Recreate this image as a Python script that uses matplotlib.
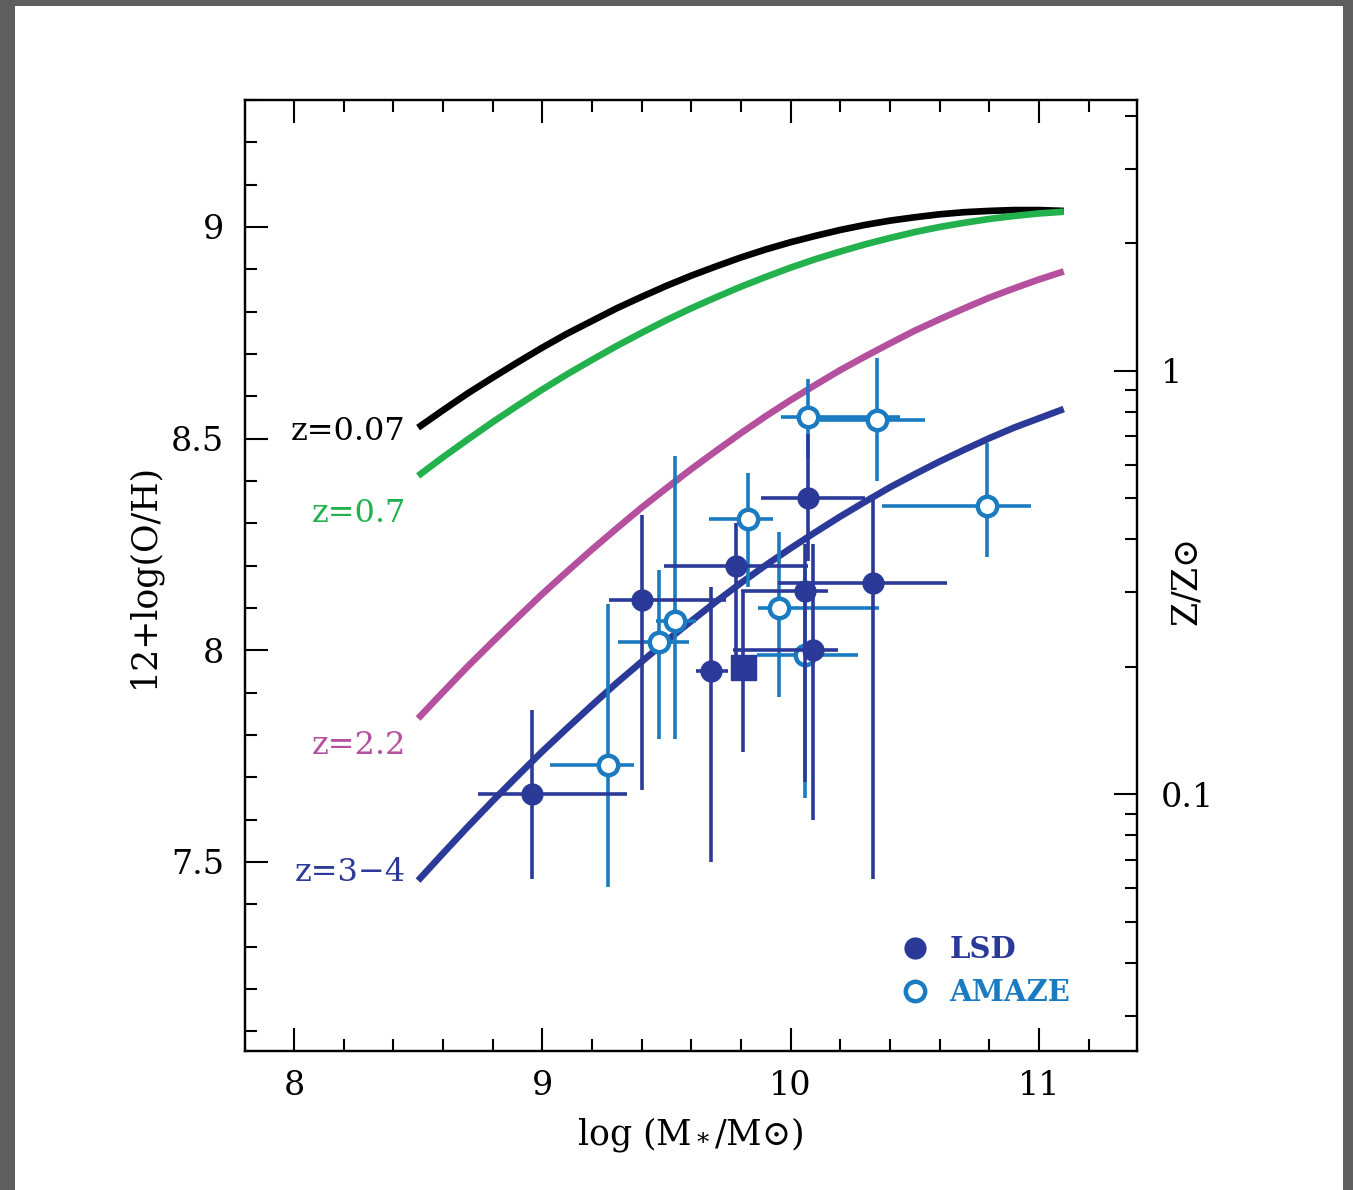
import matplotlib
matplotlib.use("Agg")
import matplotlib.pyplot as plt
import numpy as np
from matplotlib.lines import Line2D
from matplotlib.patches import Rectangle
from matplotlib.ticker import FixedLocator, MultipleLocator, FuncFormatter, LogLocator, NullFormatter

plt.rcParams['font.family'] = ['DejaVu Serif', 'DejaVu Sans']
plt.rcParams['mathtext.fontset'] = 'dejavuserif'

# ---- model curves (every 0.1 dex in mass) ----
curve_x = [8.5, 8.6, 8.7, 8.8, 8.9, 9.0, 9.1, 9.2, 9.3, 9.4, 9.5, 9.6, 9.7, 9.8,
           9.9, 10.0, 10.1, 10.2, 10.3, 10.4, 10.5, 10.6, 10.7, 10.8, 10.9, 11.0, 11.1]
curve_z007 = [8.526, 8.567, 8.607, 8.644, 8.680, 8.715, 8.748, 8.778, 8.808, 8.835,
              8.861, 8.885, 8.907, 8.928, 8.947, 8.964, 8.979, 8.993, 9.005, 9.015,
              9.023, 9.030, 9.035, 9.038, 9.040, 9.040, 9.038]
curve_z07 = [8.412, 8.456, 8.498, 8.539, 8.578, 8.616, 8.652, 8.686, 8.719, 8.750,
             8.780, 8.808, 8.834, 8.859, 8.882, 8.904, 8.924, 8.942, 8.959, 8.974,
             8.988, 9.000, 9.010, 9.019, 9.026, 9.032, 9.036]
curve_z22 = [7.839, 7.901, 7.962, 8.020, 8.077, 8.133, 8.186, 8.238, 8.288, 8.337,
             8.383, 8.428, 8.471, 8.513, 8.553, 8.591, 8.627, 8.662, 8.694, 8.725,
             8.755, 8.782, 8.808, 8.833, 8.855, 8.876, 8.895]
curve_z34 = [7.456, 7.520, 7.583, 7.644, 7.703, 7.761, 7.816, 7.870, 7.923, 7.973,
             8.022, 8.069, 8.115, 8.159, 8.201, 8.241, 8.279, 8.316, 8.351, 8.385,
             8.416, 8.446, 8.474, 8.501, 8.526, 8.548, 8.570]
curve_labels = ["z=0.07", "z=0.7", "z=2.2", "z=3\u22124"]

# ---- LSD (filled circles) ----
lsd_x = [8.96, 9.40, 9.68, 9.78, 10.07, 10.06, 10.09, 10.33]
lsd_y = [7.66, 8.12, 7.95, 8.20, 8.36, 8.14, 8.00, 8.16]
lsd_xlo = [0.22, 0.13, 0.06, 0.29, 0.19, 0.26, 0.32, 0.38]
lsd_xhi = [0.38, 0.34, 0.07, 0.29, 0.23, 0.09, 0.10, 0.30]
lsd_ylo = [0.20, 0.45, 0.45, 0.22, 0.15, 0.45, 0.40, 0.70]
lsd_yhi = [0.20, 0.20, 0.20, 0.10, 0.15, 0.11, 0.25, 0.195]

# ---- LSD stacked point (filled square) ----
sq_x = [9.81]
sq_y = [7.96]
sq_xerr = [0.05]
sq_ylo = [0.20]
sq_yhi = [0.18]

# ---- AMAZE (open circles) ----
am_x = [9.265, 9.47, 9.535, 9.83, 9.955, 10.06, 10.07, 10.35, 10.79]
am_y = [7.73, 8.02, 8.07, 8.31, 8.10, 7.99, 8.55, 8.545, 8.34]
am_xlo = [0.235, 0.165, 0.075, 0.16, 0.085, 0.195, 0.11, 0.23, 0.42]
am_xhi = [0.105, 0.12, 0.085, 0.10, 0.40, 0.21, 0.37, 0.19, 0.18]
am_ylo = [0.29, 0.23, 0.28, 0.16, 0.21, 0.34, 0.095, 0.145, 0.12]
am_yhi = [0.38, 0.17, 0.39, 0.11, 0.18, 0.20, 0.09, 0.145, 0.15]

solar_oh = 8.66

c_black = '#000000'
c_green = '#22b14c'
c_pink = '#b5509e'
c_dark = '#2b3a98'
c_light = '#1a7bc1'

W, H = 1353, 1190
fig = plt.figure(figsize=(W / 100, H / 100), dpi=100)
fig.patch.set_facecolor('#5e5e5e')
fig.add_artist(Rectangle((15 / W, 0), (1343 - 15) / W, 1 - 6 / H,
                         transform=fig.transFigure, facecolor='white',
                         edgecolor='none', zorder=-10))

ax = fig.add_axes([245 / W, 1 - 1051 / H, (1137 - 245) / W, (1051 - 100) / H])
ax.set_zorder(5)
ax.set_xlim(7.803, 11.395)
ax.set_ylim(7.0534, 9.300)

lw_c = 4.8
ax.plot(curve_x, curve_z007, color=c_black, lw=lw_c, solid_capstyle='butt', zorder=2)
ax.plot(curve_x, curve_z07, color=c_green, lw=lw_c, solid_capstyle='butt', zorder=2)
ax.plot(curve_x, curve_z22, color=c_pink, lw=lw_c, solid_capstyle='butt', zorder=2)
ax.plot(curve_x, curve_z34, color=c_dark, lw=lw_c, solid_capstyle='butt', zorder=2)

# curve labels
lab_cols = [c_black, c_green, c_pink, c_dark]
lab_y = [8.517, 8.322, 7.774, 7.474]
for t, c, yy in zip(curve_labels, lab_cols, lab_y):
    ax.text(8.45, yy, t, color=c, fontsize=23, ha='right', va='center')

elw = 2.6
ax.errorbar(am_x, am_y, xerr=[am_xlo, am_xhi], yerr=[am_ylo, am_yhi],
            fmt='o', color=c_light, mfc='white', mec=c_light, mew=3.2, ms=14,
            elinewidth=elw, capsize=0, zorder=3)
ax.errorbar(lsd_x, lsd_y, xerr=[lsd_xlo, lsd_xhi], yerr=[lsd_ylo, lsd_yhi],
            fmt='o', color=c_dark, ms=15, elinewidth=elw, capsize=0, zorder=4)
ax.errorbar(sq_x, sq_y, xerr=[sq_xerr, sq_xerr], yerr=[sq_ylo, sq_yhi],
            fmt='s', color=c_dark, ms=18, elinewidth=elw, capsize=0, zorder=4)

# axes styling
for sp in ax.spines.values():
    sp.set_linewidth(1.6)
ax.xaxis.set_major_locator(FixedLocator([8, 9, 10, 11]))
ax.xaxis.set_minor_locator(MultipleLocator(0.2))
ax.yaxis.set_major_locator(FixedLocator([7.5, 8, 8.5, 9]))
ax.yaxis.set_minor_locator(MultipleLocator(0.1))
ax.xaxis.set_major_formatter(FuncFormatter(lambda v, p: '%g' % v))
ax.yaxis.set_major_formatter(FuncFormatter(lambda v, p: '%g' % v))
ax.tick_params(which='both', direction='in', top=True, bottom=True, left=True, right=False,
               width=1.5, colors='black')
ax.tick_params(which='major', length=16.5, labelsize=24)
ax.tick_params(which='minor', length=8.5)
ax.tick_params(axis='x', which='major', pad=14)
ax.tick_params(axis='y', which='major', pad=15)

ax.set_xlabel(r'log (M$_*$/M$\odot$)', fontsize=25, ha='center', va='center')
ax.xaxis.set_label_coords(0.499, -0.0883)
ax.set_ylabel('12+log(O/H)', fontsize=25, rotation=90, ha='center', va='center')
ax.yaxis.set_label_coords(-0.114, 0.5)

# right axis: Z/Zsun
ax2 = ax.twinx()
ax2.set_zorder(4)
ax2.set_yscale('log')
ax2.set_ylim(10 ** (7.0534 - solar_oh), 10 ** (9.300 - solar_oh))
ax2.yaxis.set_major_locator(FixedLocator([0.1, 1]))
ax2.yaxis.set_minor_locator(LogLocator(base=10, subs=np.arange(2, 10)))
ax2.yaxis.set_major_formatter(FuncFormatter(lambda v, p: '%g' % v))
ax2.yaxis.set_minor_formatter(NullFormatter())
ax2.tick_params(which='both', direction='in', width=1.5)
ax2.tick_params(which='major', length=16.5, labelsize=24, pad=17)
ax2.tick_params(which='minor', length=8.5)
for sp in ax2.spines.values():
    sp.set_linewidth(1.6)
ax2.set_ylabel(r'Z/Z$\odot$', fontsize=25, rotation=90, ha='center', va='center')
ax2.yaxis.set_label_coords(1.057, 0.492)
ax.patch.set_visible(False)
ax2.patch.set_facecolor('white')

# legend
h1 = Line2D([], [], ls='none', marker='o', ms=15, color=c_dark, mec=c_dark)
h2 = Line2D([], [], ls='none', marker='o', ms=14, mfc='white', mec=c_light, mew=3.2)
leg = ax.legend([h1, h2], ['LSD', 'AMAZE'], loc='upper left', bbox_to_anchor=(0.7375, 0.1217),
                frameon=False, borderpad=0, borderaxespad=0, handlelength=0.8,
                handletextpad=0.8, labelspacing=0.48,
                prop={'family': 'DejaVu Serif', 'weight': 'bold', 'size': 21},
                labelcolor='markeredgecolor')

fig.savefig('out.png', dpi=100, facecolor=fig.get_facecolor())
